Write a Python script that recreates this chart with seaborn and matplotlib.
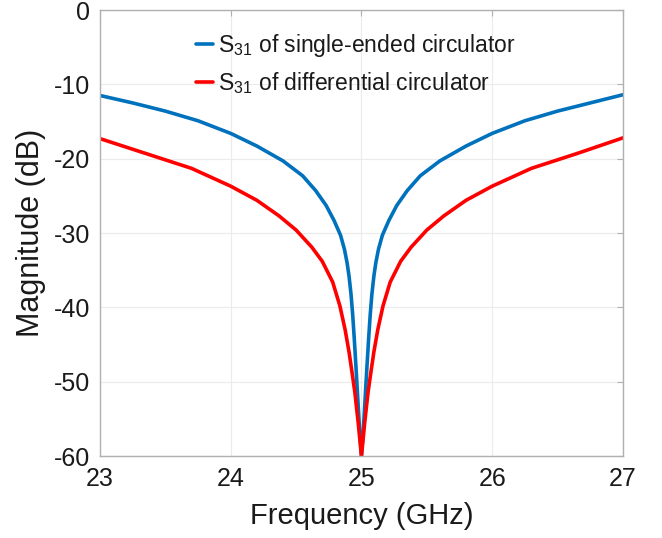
import pandas as pd
import matplotlib
matplotlib.use('Agg')
import matplotlib.pyplot as plt
import seaborn as sns

# valores (GHz, dB)
freq_se = [23.0, 23.25, 23.5, 23.75, 24.0, 24.2, 24.4, 24.55, 24.65, 24.73, 24.79, 24.84, 24.87, 24.89,
           24.905, 24.92, 24.933, 24.945, 24.958, 24.972, 24.985, 25.0,
           25.015, 25.028, 25.042, 25.055, 25.067, 25.08, 25.095, 25.11, 25.13, 25.16, 25.21, 25.27,
           25.35, 25.45, 25.6, 25.8, 26.0, 26.25, 26.5, 26.75, 27.0]
s31_se = [-11.5, -12.5, -13.6, -14.9, -16.6, -18.3, -20.3, -22.3, -24.3, -26.3, -28.3, -30.3, -32.2, -34.0,
          -35.8, -38.2, -41.0, -44.2, -48.0, -52.3, -56.3, -60.0,
          -56.3, -52.3, -48.0, -44.2, -41.0, -38.2, -35.8, -34.0, -32.2, -30.3, -28.3, -26.3,
          -24.3, -22.3, -20.3, -18.3, -16.6, -14.9, -13.6, -12.5, -11.4]

freq_dif = [23.0, 23.35, 23.7, 24.0, 24.2, 24.37, 24.5, 24.62, 24.7, 24.78, 24.835, 24.875, 24.905, 24.93,
            24.95, 24.975, 25.0,
            25.025, 25.05, 25.07, 25.095, 25.125, 25.165, 25.22, 25.3, 25.38, 25.5, 25.63, 25.8, 26.0,
            26.3, 26.65, 27.0]
s31_dif = [-17.3, -19.3, -21.3, -23.7, -25.6, -27.7, -29.6, -31.9, -33.8, -36.6, -39.8, -43.0, -46.0, -49.0,
           -51.5, -55.5, -60.0,
           -55.5, -51.5, -49.0, -46.0, -43.0, -39.8, -36.6, -33.8, -31.9, -29.6, -27.7, -25.6, -23.7,
           -21.3, -19.3, -17.2]

lab_se = r'$\mathregular{S_{31}}$ of single-ended circulator'
lab_dif = r'$\mathregular{S_{31}}$ of differential circulator'

df = pd.concat([
    pd.DataFrame({'f': freq_se, 'mag': s31_se, 'serie': lab_se}),
    pd.DataFrame({'f': freq_dif, 'mag': s31_dif, 'serie': lab_dif}),
])

sns.set_style('white')
plt.rcParams['font.family'] = ['Liberation Sans', 'DejaVu Sans']
plt.rcParams['axes.unicode_minus'] = False
plt.rcParams['text.color'] = '#1a1a1a'
plt.rcParams['axes.labelcolor'] = '#1a1a1a'

fig = plt.figure(figsize=(6.62, 5.38), dpi=100)
ax = fig.add_axes([0.151, 0.1524, 0.790, 0.829])

sns.lineplot(data=df, x='f', y='mag', hue='serie', sort=False,
             palette={lab_se: '#0072BD', lab_dif: '#FF0000'},
             linewidth=2.6, ax=ax)

ax.set_xlim(23, 27)
ax.set_ylim(-60, 0)
ax.set_xticks([23, 24, 25, 26, 27])
ax.set_yticks([-60, -50, -40, -30, -20, -10, 0])
ax.grid(True, color='#ebebeb', linewidth=0.8)
for s in ax.spines.values():
    s.set_color('#b0b0b0')
    s.set_linewidth(1.0)
ax.tick_params(direction='in', length=4, color='#b0b0b0', labelsize=18,
               labelcolor='#1a1a1a', top=True, right=True)
ax.tick_params(axis='x', pad=8)
ax.tick_params(axis='y', pad=7)
ax.set_xlabel('Frequency (GHz)', fontsize=21, labelpad=8)
ax.set_ylabel('Magnitude (dB)', fontsize=22, labelpad=6)

ax.legend(loc='upper left', bbox_to_anchor=(0.1836, 0.95), frameon=False,
          borderpad=0, borderaxespad=0,
          fontsize=16.5, handlelength=0.75, handletextpad=0.2, labelspacing=0.45)

plt.savefig('out.png', dpi=100)
plt.close()
